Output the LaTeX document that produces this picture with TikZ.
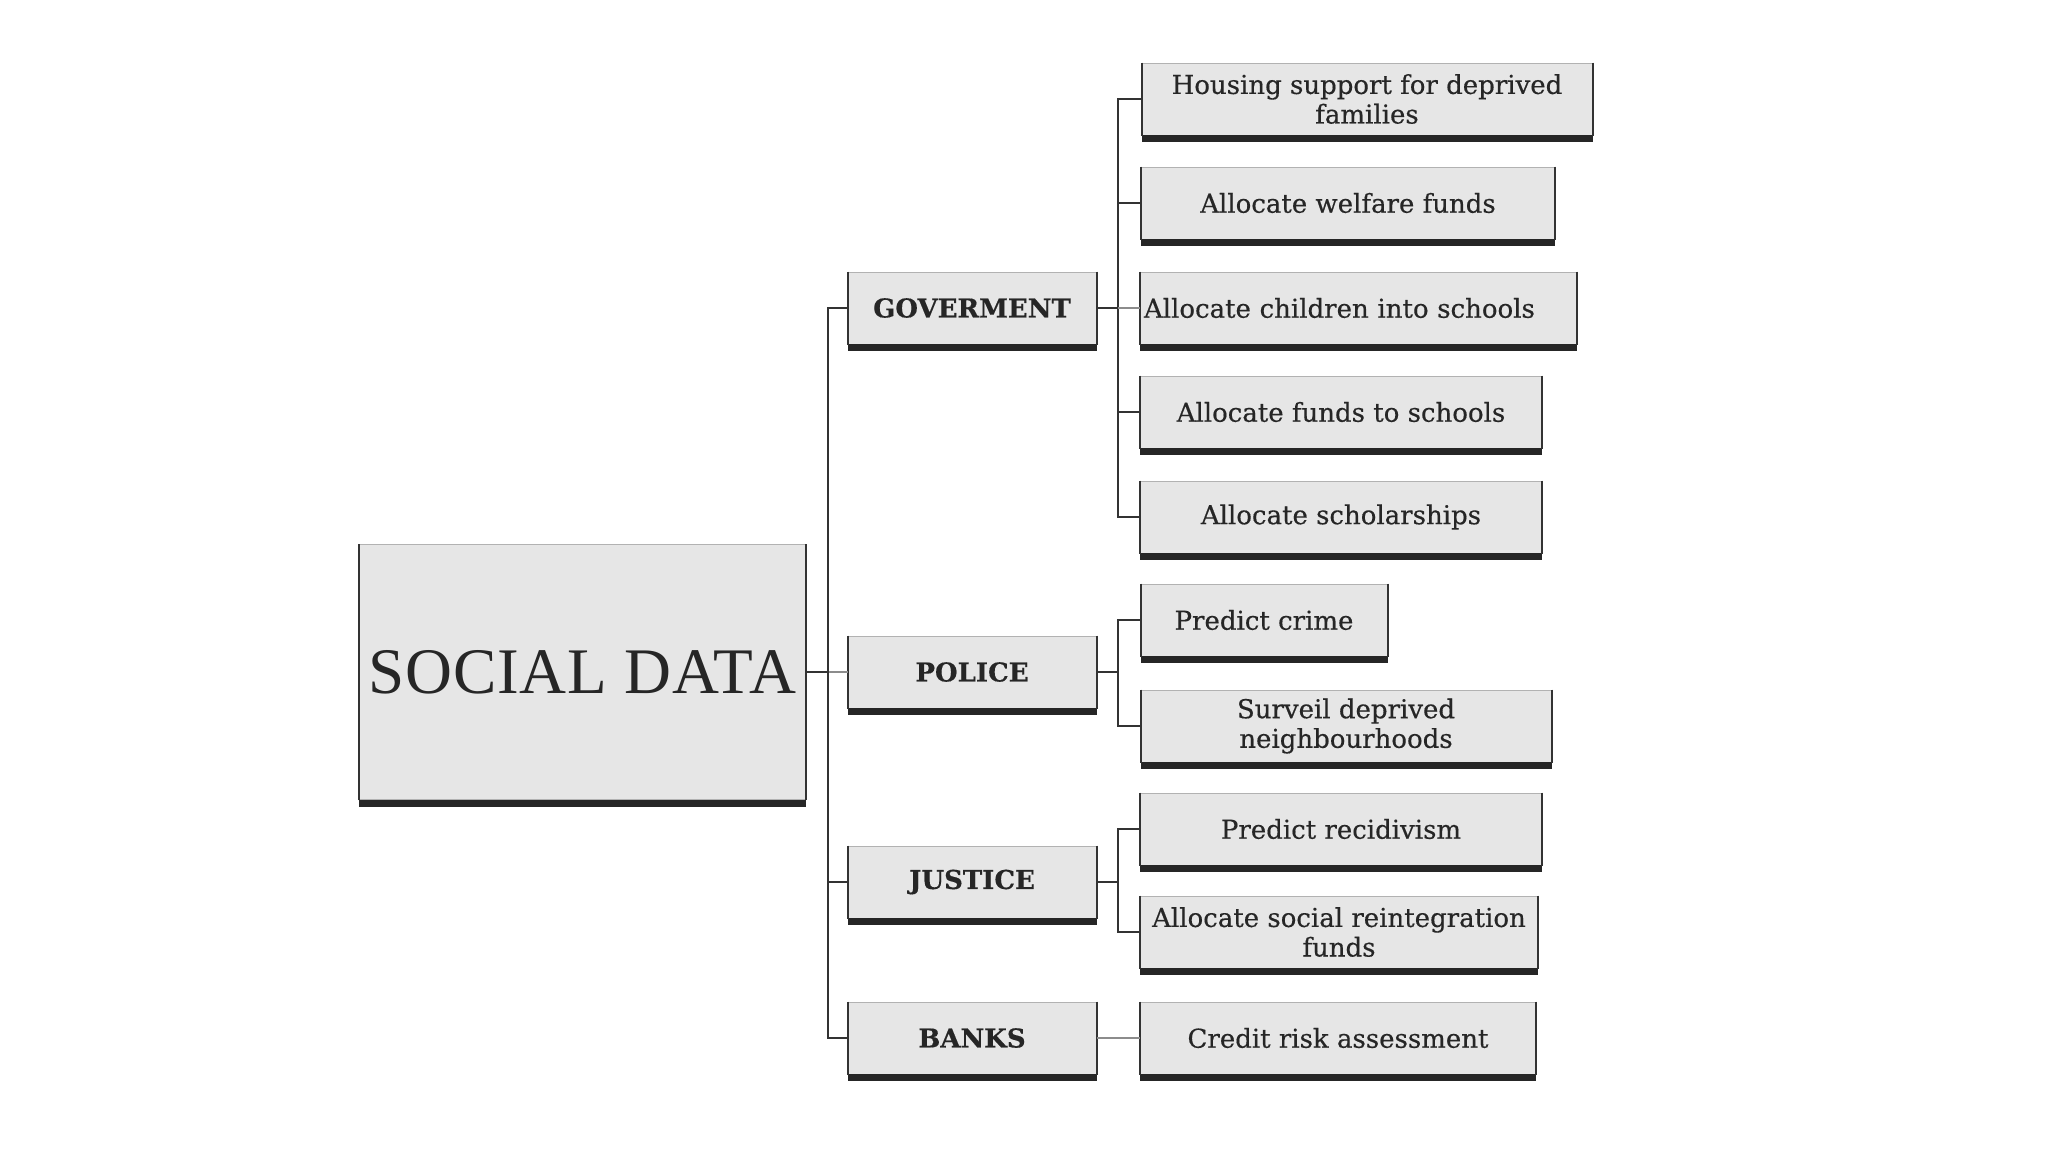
\documentclass[tikz,border=0pt]{standalone}
\usepackage{fontspec}
\setmainfont{DejaVu Serif}[FakeBold=0.4]
\newfontfamily\socfont{Liberation Serif}[LetterSpace=1.5]
\definecolor{boxfill}{HTML}{E6E6E6}
\definecolor{ink}{HTML}{262626}
\tikzset{
  box/.style={fill=boxfill, draw=black!30, line width=0.5pt, text=ink, inner sep=2pt,
    minimum height=36pt, font=\fontsize{13}{14.8}\selectfont, align=center},
  midbox/.style={box, minimum width=124pt, font=\fontsize{13}{15}\selectfont\bfseries},
  link/.style={draw=black!80, line width=1pt},
  faint/.style={draw=black!45, line width=0.6pt},
  shadowln/.style={draw=black!85, line width=3.5pt},
  sideln/.style={draw=black!80, line width=1pt}
}
\begin{document}
\begin{tikzpicture}[x=0.5pt,y=-0.5pt]
\useasboundingbox (0,0) rectangle (2048,1152);
% root
\node[box, minimum width=223pt, minimum height=127.5pt,
  font=\socfont\fontsize{32.5}{36}\selectfont] (soc) at (582,672) {SOCIAL DATA};
% middle level
\node[midbox] (gov) at (972,308) {GOVERMENT};
\node[midbox] (pol) at (972,672) {POLICE};
\node[midbox] (jus) at (972,882) {JUSTICE};
\node[midbox] (bank) at (972,1038) {BANKS};
% leaves
\node[box, minimum width=225pt] (hous) at (1367,99) {Housing support for deprived\\families};
\node[box, minimum width=206.5pt] (welf) at (1348,203) {Allocate welfare funds};
\node[box, text width=214pt, align=left, inner xsep=2pt] (chil) at (1358,308) {Allocate children into schools};
\node[box, minimum width=200.5pt] (fund) at (1341,412) {Allocate funds to schools};
\node[box, minimum width=200.5pt] (scho) at (1341,517) {Allocate scholarships};
\node[box, minimum width=123pt] (crim) at (1264,620) {Predict crime};
\node[box, minimum width=205pt] (surv) at (1346,726) {Surveil deprived\\neighbourhoods};
\node[box, minimum width=200.5pt] (reci) at (1341,829) {Predict recidivism};
\node[box, minimum width=198.5pt] (rein) at (1339,932) {Allocate social reintegration\\funds};
\node[box, minimum width=197.5pt] (cred) at (1338,1038) {Credit risk assessment};
% 3D edges
\foreach \n in {soc,gov,pol,jus,bank,hous,welf,chil,fund,scho,crim,surv,reci,rein,cred}{
  \draw[shadowln] ([yshift=-1.5pt]\n.south west) -- ([yshift=-1.5pt]\n.south east);
  \draw[sideln] (\n.north west) -- (\n.south west);
  \draw[sideln] (\n.north east) -- (\n.south east);
}
% connectors
\coordinate (tk) at (828,0);
\coordinate (gx) at (1118,0);
\draw[link] (soc.east) -- (soc.east -| tk);
\draw[faint] (soc.east -| tk) -- (pol.west);
\draw[link] (gov.west) -| (tk |- bank.west) -- (bank.west);
\draw[link] (jus.west) -- (jus.west -| tk);
% government
\draw[link] (hous.west) -| (gx |- scho.west) -- (scho.west);
\draw[link] (welf.west) -- (welf.west -| gx);
\draw[link] (fund.west) -- (fund.west -| gx);
\draw[link] (gov.east) -- (gov.east -| gx);
\draw[faint] (gov.east -| gx) -- (chil.west);
% police
\draw[link] (pol.east) -- (pol.east -| gx);
\draw[link] (crim.west) -| (gx |- surv.west) -- (surv.west);
% justice
\draw[link] (jus.east) -- (jus.east -| gx);
\draw[link] (reci.west) -| (gx |- rein.west) -- (rein.west);
% banks
\draw[faint] (bank.east) -- (cred.west);
\end{tikzpicture}
\end{document}
